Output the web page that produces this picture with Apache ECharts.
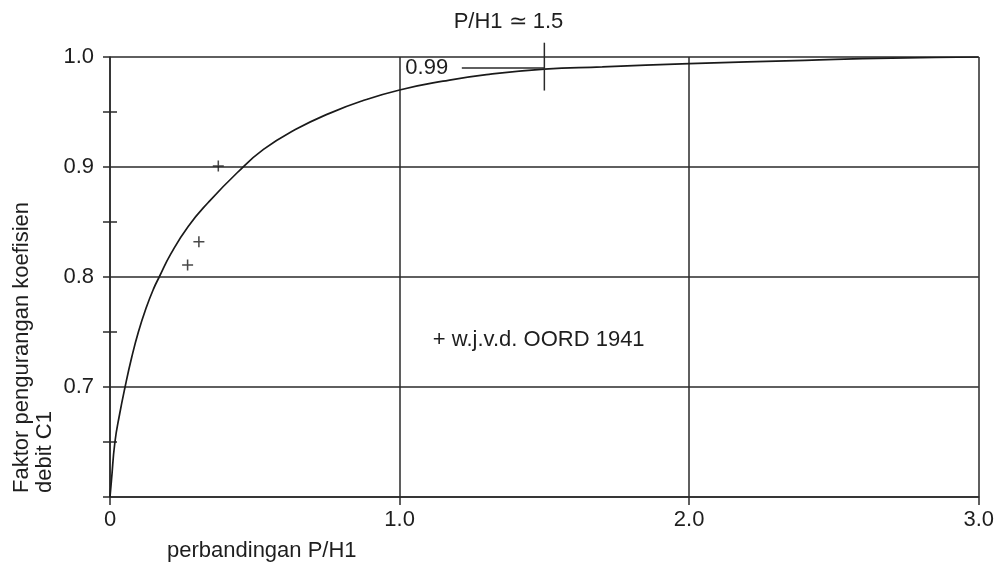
<!DOCTYPE html>
<html>
<head>
<meta charset="utf-8">
<script src="https://cdn.jsdelivr.net/npm/echarts@6/dist/echarts.min.js"></script>
<style>
html,body{margin:0;padding:0;background:#fff;}
#chart{width:997px;height:564px;}
</style>
</head>
<body>
<div id="chart"></div>
<script>
// ---- data ----
var curveX = [0, 0.005, 0.017, 0.033, 0.052, 0.075, 0.098, 0.125, 0.15, 0.17, 0.21, 0.27, 0.34, 0.44, 0.53, 0.64, 0.76, 0.87, 1.0, 1.15, 1.3, 1.5, 1.7, 2.0, 2.4, 2.7, 3.0];
var curveY = [0.6, 0.615, 0.65, 0.675, 0.70, 0.727, 0.75, 0.772, 0.789, 0.80, 0.821, 0.846, 0.868, 0.895, 0.916, 0.934, 0.949, 0.960, 0.970, 0.978, 0.984, 0.989, 0.991, 0.994, 0.997, 0.999, 1.0];
var oordX = [0.268, 0.307, 0.374];
var oordY = [0.811, 0.832, 0.901];
var xTicks = [0, 1, 2, 3];
var xTickLabels = ['0', '1.0', '2.0', '3.0'];
var yTicks = [0.6, 0.7, 0.8, 0.9, 1.0];
var yTickLabels = ['', '0.7', '0.8', '0.9', '1.0'];
var markRatio = 1.5;           // P/H1 ≈ 1.5
var markValue = 0.99;          // coefficient at that ratio
var markTickRange = [0.9695, 1.013];
var markLineStartX = 1.215;
var valueLabelX = 1.02;
var legendPos = [1.115, 0.743];
var titleText = 'P/H1 \u2243 1.5';
var legendText = '+ w.j.v.d. OORD 1941';
var xName = 'perbandingan P/H1';
var yName = 'Faktor pengurangan koefisien\ndebit C1';

var FONT = 'Liberation Sans, Arial, sans-serif';
var FS = 22;
var TXT = '#1e1e1e';
var LINE = '#2a2a2a';

function lookup(ticks, labels, v) {
  for (var i = 0; i < ticks.length; i++) if (Math.abs(ticks[i] - v) < 1e-6) return labels[i];
  return '';
}

var curveData = curveX.map(function (x, i) { return [x, curveY[i]]; });
var oordData = oordX.map(function (x, i) { return [x, oordY[i]]; });

var chart = echarts.init(document.getElementById('chart'), null, {renderer: 'canvas'});
var option = {
  animation: false,
  backgroundColor: '#fff',
  grid: {left: 110, right: 18, top: 57, bottom: 67, containLabel: false},
  xAxis: {
    type: 'value', min: 0, max: 3, interval: 1,
    axisLine: {show: true, onZero: false, lineStyle: {color: LINE, width: 1.5}},
    axisTick: {show: true, length: 8, lineStyle: {color: LINE, width: 1.5}},
    axisLabel: {color: TXT, fontFamily: FONT, fontSize: FS, margin: 12,
      formatter: function (v) { return lookup(xTicks, xTickLabels, v); }},
    splitLine: {show: true, lineStyle: {color: LINE, width: 1.5}}
  },
  yAxis: [{
    type: 'value', min: 0.6, max: 1.0, interval: 0.1,
    axisLine: {show: true, onZero: false, lineStyle: {color: LINE, width: 1.5}},
    axisTick: {show: true, length: 7, lineStyle: {color: LINE, width: 1.5}},
    minorTick: {show: true, splitNumber: 2, length: 7, lineStyle: {color: LINE, width: 1.5}},
    axisLabel: {color: TXT, fontFamily: FONT, fontSize: FS, margin: 16,
      formatter: function (v) { return lookup(yTicks, yTickLabels, v); }},
    splitLine: {show: true, lineStyle: {color: LINE, width: 1.5}}
  }, {
    type: 'value', min: 0.6, max: 1.0, interval: 0.1, position: 'left',
    axisLine: {show: false},
    axisTick: {show: false, inside: true},
    minorTick: {show: true, splitNumber: 2, length: 7, lineStyle: {color: LINE, width: 1.5}},
    axisLabel: {show: false},
    splitLine: {show: false}
  }],
  series: [{
    type: 'line', data: curveData, smooth: 0.5,
    showSymbol: false, symbol: 'none',
    lineStyle: {color: '#1a1a1a', width: 1.7}, z: 5
  }, {
    type: 'scatter', data: oordData,
    symbol: 'path://M0,4.5h10v1.4h-10z M4.3,0h1.4v10.4h-1.4z',
    symbolSize: 11,
    itemStyle: {color: '#1a1a1a'}, z: 6
  }]
};
chart.setOption(option);

function px(x, y) { return chart.convertToPixel({gridIndex: 0}, [x, y]); }

var pTop = px(markRatio, markTickRange[1]);
var pBot = px(markRatio, markTickRange[0]);
var pLineStart = px(markLineStartX, markValue);
var pLineEnd = px(markRatio, markValue);
var pVal = px(valueLabelX, markValue);
var pLeg = px(legendPos[0], legendPos[1]);

chart.setOption({
  graphic: [
    {type: 'line', shape: {x1: pTop[0], y1: pTop[1], x2: pBot[0], y2: pBot[1]},
      style: {stroke: LINE, lineWidth: 1.5}, z: 10},
    {type: 'line', shape: {x1: pLineStart[0], y1: pLineStart[1], x2: pLineEnd[0], y2: pLineEnd[1]},
      style: {stroke: LINE, lineWidth: 1.5}, z: 10},
    {type: 'text', x: pTop[0] + 19, y: 22,
      style: {text: titleText, font: FS + 'px ' + FONT, fill: TXT, textAlign: 'right', textVerticalAlign: 'middle'}, z: 10},
    {type: 'text', x: pVal[0], y: pVal[1],
      style: {text: '0.99', font: FS + 'px ' + FONT, fill: TXT, textAlign: 'left', textVerticalAlign: 'middle'}, z: 10},
    {type: 'text', x: pLeg[0], y: pLeg[1],
      style: {text: legendText, font: FS + 'px ' + FONT, fill: TXT, textAlign: 'left', textVerticalAlign: 'middle'}, z: 10},
    {type: 'text', x: 167, y: 551,
      style: {text: xName, font: FS + 'px ' + FONT, fill: TXT, textAlign: 'left', textVerticalAlign: 'middle'}, z: 10},
    {type: 'text', x: 10, y: 493, rotation: Math.PI / 2,
      style: {text: yName, font: FS + 'px ' + FONT, fill: TXT, textAlign: 'left', textVerticalAlign: 'top', lineHeight: 23}, z: 10}
  ]
});
</script>
</body>
</html>
